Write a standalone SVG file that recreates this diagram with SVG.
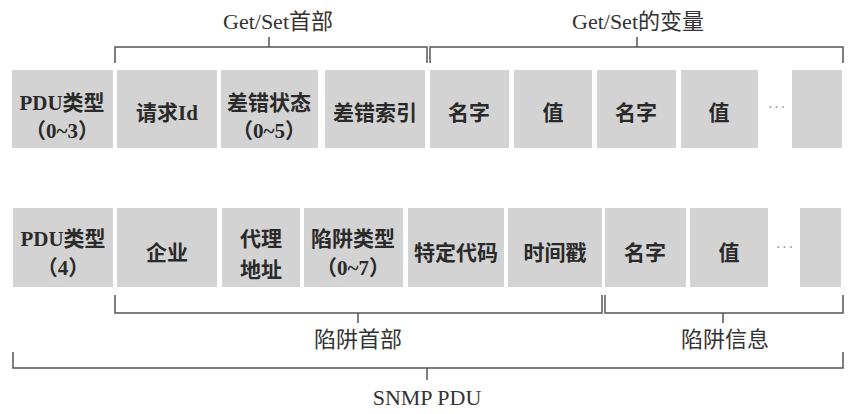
<svg xmlns="http://www.w3.org/2000/svg" width="858" height="414" viewBox="0 0 858 414">
<style>
.box{fill:#d3d3d3}
.t{font-family:"Liberation Serif","Noto Sans CJK SC",serif;font-size:21px;font-weight:bold;fill:#2a2a2a;text-anchor:middle}
.lbl{font-family:"Liberation Serif","Noto Sans CJK SC",serif;font-size:22px;fill:#333;text-anchor:middle}
.dots{font-family:"Liberation Sans",sans-serif;font-size:16px;fill:#999;text-anchor:middle;letter-spacing:1px}
.br{fill:none;stroke:#555;stroke-width:1.5}
</style>
<rect width="858" height="414" fill="#ffffff"/>
<g id="row1">
<g id="n-pdu1"><rect class="box" x="12" y="70" width="101" height="78"/><text class="t" x="62" y="110">PDU类型</text><text class="t" x="62" y="138">（0~3）</text></g>
<g id="n-reqid"><rect class="box" x="117" y="70" width="100" height="78"/><text class="t" x="167" y="120">请求Id</text></g>
<g id="n-errstat"><rect class="box" x="221" y="70" width="97" height="78"/><text class="t" x="269" y="110">差错状态</text><text class="t" x="269" y="138">（0~5）</text></g>
<g id="n-erridx"><rect class="box" x="325" y="70" width="100" height="78"/><text class="t" x="375" y="120">差错索引</text></g>
<g id="n-name1"><rect class="box" x="430" y="70" width="79" height="78"/><text class="t" x="469" y="120">名字</text></g>
<g id="n-val1"><rect class="box" x="514" y="70" width="78" height="78"/><text class="t" x="553" y="120">值</text></g>
<g id="n-name2"><rect class="box" x="597" y="70" width="79" height="78"/><text class="t" x="636" y="120">名字</text></g>
<g id="n-val2"><rect class="box" x="681" y="70" width="77" height="78"/><text class="t" x="719" y="120">值</text></g>
<text class="dots" x="777" y="112">···</text>
<g id="n-last1"><rect class="box" x="792" y="70" width="50" height="78"/></g>
</g>
<g id="row2">
<g id="n-pdu2"><rect class="box" x="13" y="208" width="100" height="79"/><text class="t" x="63" y="246">PDU类型</text><text class="t" x="63" y="275">（4）</text></g>
<g id="n-ent"><rect class="box" x="117" y="208" width="100" height="79"/><text class="t" x="167" y="260">企业</text></g>
<g id="n-agent"><rect class="box" x="222" y="208" width="78" height="79"/><text class="t" x="261" y="246">代理</text><text class="t" x="261" y="277">地址</text></g>
<g id="n-traptype"><rect class="box" x="304" y="208" width="99" height="79"/><text class="t" x="353" y="246">陷阱类型</text><text class="t" x="353" y="275">（0~7）</text></g>
<g id="n-spec"><rect class="box" x="408" y="208" width="96" height="79"/><text class="t" x="456" y="260">特定代码</text></g>
<g id="n-time"><rect class="box" x="508" y="208" width="94" height="79"/><text class="t" x="555" y="260">时间戳</text></g>
<g id="n-name3"><rect class="box" x="605" y="208" width="81" height="79"/><text class="t" x="645" y="260">名字</text></g>
<g id="n-val3"><rect class="box" x="690" y="208" width="78" height="79"/><text class="t" x="729" y="260">值</text></g>
<text class="dots" x="785" y="252">···</text>
<g id="n-last2"><rect class="box" x="800" y="208" width="41" height="79"/></g>
</g>
<g id="connectors">
<path class="br" d="M115,63 V47 H427 V63 M269,47 V37"/>
<path class="br" d="M430,63 V47 H843 V63 M637,47 V37"/>
<path class="br" d="M115,295 V313 H602 V295 M358,313 V323"/>
<path class="br" d="M605,295 V313 H843 V295 M723,313 V323"/>
<path class="br" d="M13,352 V368 H843 V352 M427,368 V380"/>
</g>
<g id="labels">
<text class="lbl" x="278" y="29">Get/Set首部</text>
<text class="lbl" x="638" y="29">Get/Set的变量</text>
<text class="lbl" x="358" y="347">陷阱首部</text>
<text class="lbl" x="725" y="347">陷阱信息</text>
<text class="lbl" x="427" y="405">SNMP PDU</text>
</g>
</svg>
